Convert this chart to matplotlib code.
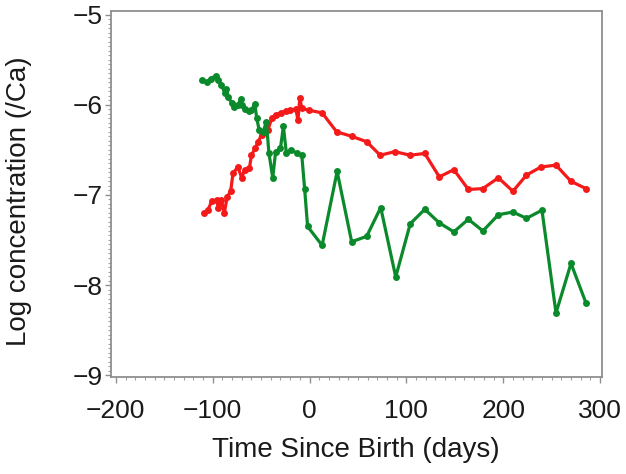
import matplotlib
matplotlib.use("Agg")
import matplotlib.pyplot as plt
from matplotlib.ticker import MultipleLocator

# ---- data ----
red_x = [-109, -105, -101, -96, -94, -91, -88, -85, -81.5, -79, -74, -70, -67, -62,
         -60, -56, -53, -49.5, -46, -43, -39, -35, -29, -24, -20, -14, -12, -10, -8,
         -1, 13, 28, 43.5, 59, 73, 88, 104, 119, 134, 149, 164, 179, 195, 210, 224,
         239, 254.5, 270, 285.5]
red_y = [-7.20, -7.17, -7.07, -7.06, -7.15, -7.06, -7.20, -7.02, -6.96, -6.76, -6.69,
         -6.81, -6.72, -6.70, -6.56, -6.48, -6.41, -6.33, -6.30, -6.28, -6.15, -6.11,
         -6.09, -6.07, -6.06, -6.05, -6.17, -5.93, -6.04, -6.06, -6.09, -6.30, -6.35,
         -6.41, -6.56, -6.52, -6.56, -6.54, -6.80, -6.72, -6.94, -6.93, -6.81, -6.96,
         -6.78, -6.69, -6.67, -6.85, -6.93]

green_x = [-111.5, -106, -102, -97, -94, -91, -87.5, -86, -84, -80.5, -77.5, -74, -71,
           -70, -67, -63, -60, -56.5, -54.5, -52, -48, -44.5, -42, -38, -35, -30, -27,
           -24, -19, -13, -8, -5, -2, 13, 28.5, 43.5, 59, 73.5, 89, 104, 119, 134, 149,
           164, 179, 195, 210, 224, 240, 254.5, 270, 285.5]
green_y = [-5.73, -5.75, -5.71, -5.68, -5.72, -5.78, -5.87, -5.82, -5.91, -5.98, -6.02,
           -6.00, -5.94, -6.00, -6.05, -6.07, -6.06, -5.99, -6.15, -6.28, -6.30, -6.19,
           -6.53, -6.81, -6.52, -6.48, -6.24, -6.53, -6.50, -6.54, -6.56, -6.94, -7.35,
           -7.56, -6.74, -7.52, -7.46, -7.14, -7.91, -7.32, -7.16, -7.31, -7.41, -7.27,
           -7.40, -7.22, -7.19, -7.26, -7.17, -8.31, -7.76, -8.20]

x_ticks = [-200, -100, 0, 100, 200, 300]
y_ticks = [-9, -8, -7, -6, -5]
x_label = "Time Since Birth (days)"
y_label = "Log concentration (/Ca)"

# ---- styling ----
plt.rcParams['font.family'] = ['Liberation Sans', 'DejaVu Sans']
plt.rcParams['axes.unicode_minus'] = True

fig = plt.figure(figsize=(6.26, 4.74), dpi=100)
ax = fig.add_axes([111/626, 1-377/474, (602-111)/626, (377-11)/474])

red_c = '#f51a1a'
green_c = '#0b8a2b'
ax.plot(red_x, red_y, color=red_c, lw=2.3, marker='o', ms=5,
        markeredgewidth=0, zorder=3)
ax.plot(green_x, green_y, color=green_c, lw=2.3, marker='o', ms=5,
        markeredgewidth=0, zorder=3)

ax.set_xlim(-205, 302)
ax.set_ylim(-9.02, -4.96)
ax.set_xticks(x_ticks)
ax.set_xticklabels(["\u2212200", "\u2212100", "0", "100", "200", "300"])
ax.set_yticks(y_ticks)
ax.set_yticklabels(["\u22129", "\u22128", "\u22127", "\u22126", "\u22125"])
ax.xaxis.set_minor_locator(MultipleLocator(10))
ax.yaxis.set_minor_locator(MultipleLocator(0.05))

frame_c = '#8f8f8f'
for s in ax.spines.values():
    s.set_color(frame_c)
    s.set_linewidth(1.3)

ax.tick_params(which='major', direction='out', length=4, width=1.0, color=frame_c,
               labelsize=19, labelcolor='#1a1a1a')
ax.tick_params(axis='x', which='major', pad=12)
ax.tick_params(axis='y', which='major', pad=2)
ax.tick_params(which='minor', direction='out', length=2.5, width=0.8, color='#a0a0a0')

ax.set_xlabel(x_label, fontsize=20, color='#1a1a1a')
ax.set_ylabel(y_label, fontsize=20, color='#1a1a1a')
ax.xaxis.set_label_coords(0.499, -0.165)
ax.yaxis.set_label_coords(-0.16, 0.48)

fig.savefig("out.png", dpi=100)
